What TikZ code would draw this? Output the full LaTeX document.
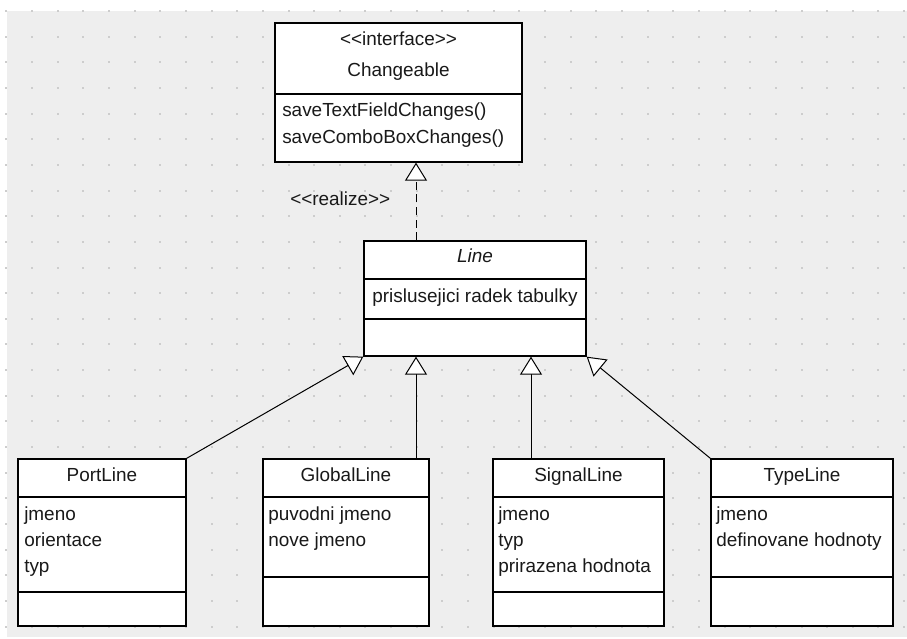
\documentclass[tikz,border=0pt]{standalone}
\usepackage{fontspec}
\setmainfont{Liberation Sans}
\usetikzlibrary{arrows.meta,fit,shadows}
\definecolor{bg}{HTML}{EEEEEE}
\definecolor{dotc}{HTML}{CDCDCD}
\begin{document}
\begin{tikzpicture}[x=0.75pt,y=-0.75pt,
  cls/.style={draw=black, line width=1pt, fill=white, inner sep=0pt,
    drop shadow={shadow xshift=1pt, shadow yshift=-1pt, opacity=0.55, fill=black}},
  divline/.style={draw=black, line width=1pt},
  txt/.style={inner sep=0pt, font=\fontsize{14.2}{19.5}\selectfont, text=black!90},
  conn/.style={draw=black, line width=0.75pt},
  gen/.style={conn, -{Triangle[length=13.5pt,width=16.5pt,fill=white,line width=0.75pt]}},
  real/.style={gen, dash pattern=on 6pt off 3.5pt}]
\useasboundingbox (0,0) rectangle (907,639);
\fill[white] (0,0) rectangle (907,639);
\fill[bg] (7,11) rectangle (907,637);
\foreach \i in {0,...,35} {
  \foreach \j in {0,...,24} {
    \fill[dotc] ({6.35+25.65*\i-1},{11+25.65*\j-1}) rectangle ++(2,2);
  }
}
% Changeable
\node[cls, fit={(275,23)(522,162)}] (ifc) {};
\draw[divline] (ifc.west |- 0,94) -- (ifc.east |- 0,94);
\node[txt, anchor=base] (ifcst) at (398.5,45.5) {<{}<interface>{}>};
\node[txt, anchor=base] (ifcname) at (398.5,76.5) {Changeable};
\node[txt, anchor=base west] (ifcm1) at (282,116) {saveTextFieldChanges()};
\node[txt, anchor=base west] (ifcm2) at (282,143) {saveComboBoxChanges()};
% Line
\node[cls, fit={(364,241)(586,356)}] (line) {};
\draw[divline] (line.west |- 0,279) -- (line.east |- 0,279);
\draw[divline] (line.west |- 0,319) -- (line.east |- 0,319);
\node[txt, anchor=base] (linename) at (475,262) {\itshape Line};
\node[txt, anchor=base] (linea1) at (475,302.5) {prislusejici radek tabulky};
% PortLine
\node[cls, fit={(18,459)(186,626)}] (port) {};
\draw[divline] (port.west |- 0,497) -- (port.east |- 0,497);
\draw[divline] (port.west |- 0,592) -- (port.east |- 0,592);
\node[txt, anchor=base] (portname) at (102,481) {PortLine};
\node[txt, anchor=base west] (porta1) at (24,520) {jmeno};
\node[txt, anchor=base west] (porta2) at (24,546.5) {orientace};
\node[txt, anchor=base west] (porta3) at (24,572.5) {typ};
% GlobalLine
\node[cls, fit={(263,459)(429,626)}] (global) {};
\draw[divline] (global.west |- 0,497) -- (global.east |- 0,497);
\draw[divline] (global.west |- 0,577) -- (global.east |- 0,577);
\node[txt, anchor=base] (globalname) at (346,481) {GlobalLine};
\node[txt, anchor=base west] (globala1) at (268,520) {puvodni jmeno};
\node[txt, anchor=base west] (globala2) at (268,546.5) {nove jmeno};
% SignalLine
\node[cls, fit={(493,459)(664,626)}] (signal) {};
\draw[divline] (signal.west |- 0,497) -- (signal.east |- 0,497);
\draw[divline] (signal.west |- 0,592) -- (signal.east |- 0,592);
\node[txt, anchor=base] (signalname) at (578.5,481) {SignalLine};
\node[txt, anchor=base west] (signala1) at (498,520) {jmeno};
\node[txt, anchor=base west] (signala2) at (498,546.5) {typ};
\node[txt, anchor=base west] (signala3) at (498,572.5) {prirazena hodnota};
% TypeLine
\node[cls, fit={(711,459)(893,626)}] (type) {};
\draw[divline] (type.west |- 0,497) -- (type.east |- 0,497);
\draw[divline] (type.west |- 0,577) -- (type.east |- 0,577);
\node[txt, anchor=base] (typename) at (802,481) {TypeLine};
\node[txt, anchor=base west] (typea1) at (716,520) {jmeno};
\node[txt, anchor=base west] (typea2) at (716,546.5) {definovane hodnoty};
% connectors
\draw[real] (416,0 |- line.north) -- (416,0 |- ifc.south);
\node[txt, anchor=base west] (realize) at (290,205) {<{}<realize>{}>};
\draw[gen] (port.north east) -- (line.south west);
\draw[gen] (416,0 |- global.north) -- (416,0 |- line.south);
\draw[gen] (531,0 |- signal.north) -- (531,0 |- line.south);
\draw[gen] (type.north west) -- (line.south east);
\end{tikzpicture}
\end{document}
